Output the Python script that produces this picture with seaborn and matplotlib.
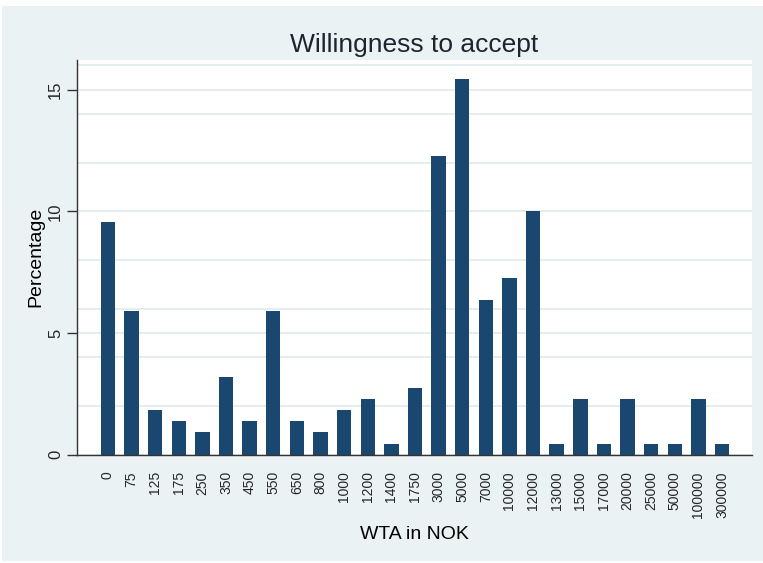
import matplotlib
matplotlib.use("Agg")
import matplotlib.pyplot as plt
import seaborn as sns
import pandas as pd
from matplotlib.patches import Rectangle

categories = ["0", "75", "125", "175", "250", "350", "450", "550", "650", "800",
              "1000", "1200", "1400", "1750", "3000", "5000", "7000", "10000",
              "12000", "13000", "15000", "17000", "20000", "25000", "50000",
              "100000", "300000"]
percentages = [9.55, 5.91, 1.82, 1.36, 0.91, 3.18, 1.36, 5.91, 1.36, 0.91,
               1.82, 2.27, 0.45, 2.73, 12.27, 15.45, 6.36, 7.27,
               10.0, 0.45, 2.27, 0.45, 2.27, 0.45, 0.45,
               2.27, 0.45]

df = pd.DataFrame({"WTA": categories, "Percentage": percentages})

sns.set_theme(style="white")
plt.rcParams['font.family'] = ['Liberation Sans', 'DejaVu Sans']

bg = "#EAF2F3"
grid = "#DDE8EC"
navy = "#1a476f"

fig = plt.figure(figsize=(7.63, 5.63), dpi=100, facecolor="white")
fig.patches.append(Rectangle((2/763, 2/563), 761/763, 555/563,
                             transform=fig.transFigure, facecolor=bg,
                             edgecolor="none", zorder=-10))
ax = fig.add_axes([77/763, (563-454.5)/563, (752-77)/763, (454.5-60)/563])
ax.set_facecolor("white")

sns.barplot(data=df, x="WTA", y="Percentage", order=categories, color=navy,
            width=0.61, saturation=1, edgecolor="none", ax=ax)

ax.set_xlim(-1.31, 26 + 1.27)
ax.set_ylim(0, 16.22)
ax.set_yticks([0, 5, 10, 15])
ax.set_yticks([2, 4, 6, 8, 12, 14, 16], minor=True)
ax.grid(axis="y", which="both", color=grid, linewidth=1.1)
ax.set_axisbelow(True)

for s in ["top", "right"]:
    ax.spines[s].set_visible(False)
for s in ["left", "bottom"]:
    ax.spines[s].set_color("#333333")
    ax.spines[s].set_linewidth(1.0)

ax.tick_params(axis="y", which="major", left=True, length=7, width=1,
               color="#333333", labelsize=12, pad=3)
ax.tick_params(axis="y", which="minor", left=False)
ax.tick_params(axis="x", bottom=False, labelsize=10, pad=6)
for lab in ax.get_yticklabels():
    lab.set_rotation(90)
    lab.set_va("center")
for lab in ax.get_xticklabels():
    lab.set_rotation(90)

ax.set_xlabel("WTA in NOK", fontsize=14, labelpad=6, color="black")
ax.set_ylabel("Percentage", fontsize=14, labelpad=3, color="black")
ax.set_title("Willingness to accept", fontsize=19, pad=6, color="#1c2530")

fig.savefig("out.png", dpi=100, facecolor="white")
